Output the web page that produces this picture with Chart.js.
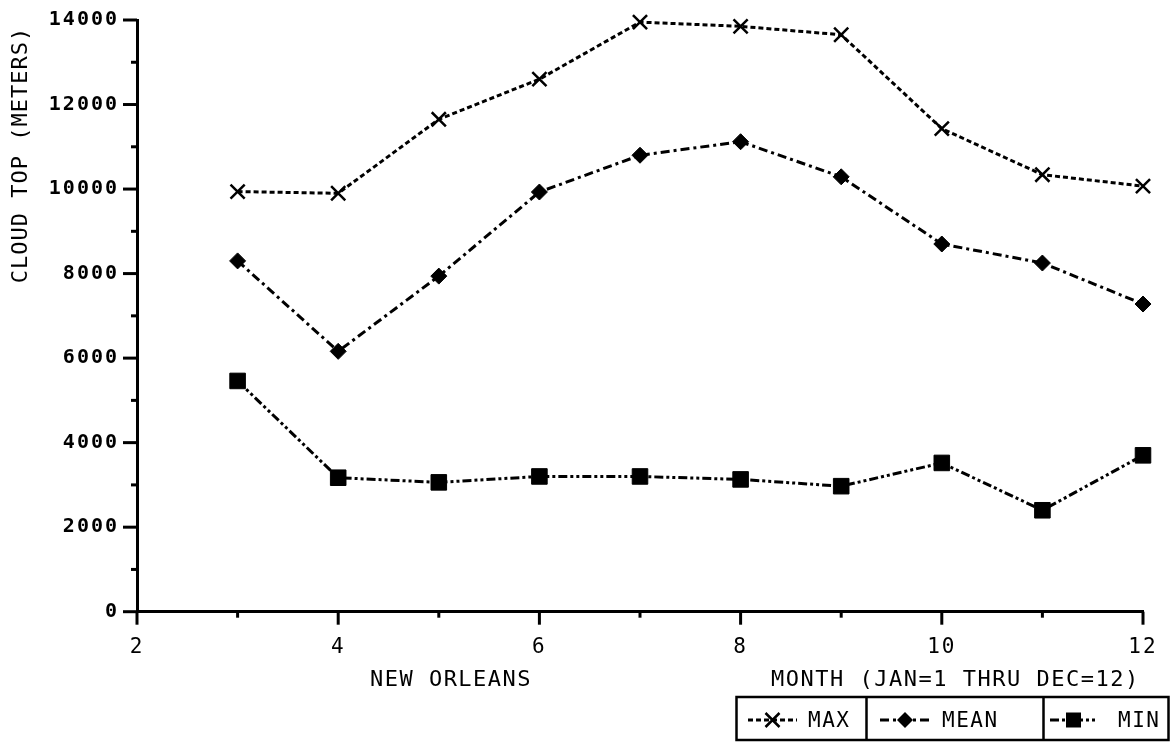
<!DOCTYPE html>
<html>
<head>
<meta charset="utf-8">
<script src="https://cdn.jsdelivr.net/npm/chart.js@4.4.0/dist/chart.umd.min.js"></script>
<style>
  html, body { margin: 0; padding: 0; background: #fff; }
  #wrap { width: 1170px; height: 743px; }
</style>
</head>
<body>
<div id="wrap"><canvas id="cloudChart" width="1170" height="743"></canvas></div>
<script>
const months = [3, 4, 5, 6, 7, 8, 9, 10, 11, 12];
const maxTop = [9940, 9900, 11650, 12600, 13950, 13850, 13650, 11430, 10340, 10070];
const meanTop = [8300, 6160, 7940, 9930, 10800, 11120, 10290, 8700, 8250, 7280];
const minTop = [5460, 3170, 3060, 3200, 3200, 3130, 2970, 3520, 2400, 3700];
const xTicks = [2, 4, 6, 8, 10, 12];
const yTicks = [0, 2000, 4000, 6000, 8000, 10000, 12000, 14000];
const seriesNames = ['MAX', 'MEAN', 'MIN'];
const yTitle = 'CLOUD TOP (METERS)';
const xTitleLeft = 'NEW ORLEANS';
const xTitleRight = 'MONTH (JAN=1 THRU DEC=12)';

const FONT = 'DejaVu Sans Mono';

function toPoints(values) {
    return months.map((m, i) => ({ x: m, y: values[i] }));
}

function drawMarker(ctx, style, x, y) {
    ctx.save();
    ctx.fillStyle = '#000';
    ctx.strokeStyle = '#000';
    ctx.setLineDash([]);
    ctx.beginPath();
    if (style === 'crossRot') {
        ctx.lineWidth = 2.5;
        ctx.moveTo(x - 7, y - 7); ctx.lineTo(x + 7, y + 7);
        ctx.moveTo(x + 7, y - 7); ctx.lineTo(x - 7, y + 7);
        ctx.stroke();
    } else if (style === 'rectRot') {
        ctx.moveTo(x - 8, y); ctx.lineTo(x, y - 8);
        ctx.lineTo(x + 8, y); ctx.lineTo(x, y + 8);
        ctx.closePath();
        ctx.fill();
    } else {
        ctx.rect(x - 7.5, y - 7.5, 15, 15);
        ctx.fill();
    }
    ctx.restore();
}

const decorPlugin = {
    id: 'decor',
    beforeDraw(chart) {
        const ctx = chart.ctx;
        ctx.save();
        ctx.fillStyle = '#fff';
        ctx.fillRect(0, 0, chart.width, chart.height);
        ctx.restore();
        // wider spacing for the plotter-style tick digits
        ctx.letterSpacing = '2px';
    },
    afterDraw(chart) {
        const ctx = chart.ctx;
        const xs = chart.scales.x;
        const ys = chart.scales.y;
        const area = chart.chartArea;

        ctx.save();
        ctx.strokeStyle = '#000';
        ctx.lineWidth = 3;
        ctx.setLineDash([]);
        // y ticks (major every 2000, minor in between)
        for (let v = ys.min; v <= ys.max; v += 1000) {
            const py = ys.getPixelForValue(v);
            const len = v % 2000 === 0 ? 14 : 6;
            ctx.beginPath();
            ctx.moveTo(area.left - len, py);
            ctx.lineTo(area.left, py);
            ctx.stroke();
        }
        // x ticks (major on even months, minor on odd)
        for (let v = xs.min; v <= xs.max; v += 1) {
            const px = xs.getPixelForValue(v);
            const len = v % 2 === 0 ? 13 : 6;
            ctx.beginPath();
            ctx.moveTo(px, area.bottom);
            ctx.lineTo(px, area.bottom + len);
            ctx.stroke();
        }

        // titles
        ctx.fillStyle = '#000';
        ctx.font = '22px ' + FONT;
        ctx.letterSpacing = '1px';
        ctx.textBaseline = 'middle';

        ctx.save();
        ctx.translate(21, 155);
        ctx.rotate(-Math.PI / 2);
        ctx.textAlign = 'center';
        ctx.fillText(yTitle, 0, 0);
        ctx.restore();

        ctx.letterSpacing = '1.5px';
        ctx.textAlign = 'center';
        ctx.fillText(xTitleLeft, 451, 680);
        ctx.textAlign = 'left';
        ctx.fillText(xTitleRight, 771, 680);

        // legend boxes
        ctx.lineWidth = 2.5;
        ctx.strokeRect(736.5, 697, 432, 43);
        ctx.beginPath();
        ctx.moveTo(866.5, 697); ctx.lineTo(866.5, 740);
        ctx.moveTo(1043.5, 697); ctx.lineTo(1043.5, 740);
        ctx.stroke();

        const legendItems = [
            { x1: 748, x2: 797, text: 808 },
            { x1: 880, x2: 930, text: 942 },
            { x1: 1050, x2: 1097, text: 1118 }
        ];
        const ly = 720;
        chart.data.datasets.forEach((ds, i) => {
            const it = legendItems[i];
            ctx.save();
            ctx.lineWidth = 3;
            ctx.setLineDash(ds.borderDash);
            ctx.beginPath();
            ctx.moveTo(it.x1, ly);
            ctx.lineTo(it.x2, ly);
            ctx.stroke();
            ctx.restore();
            drawMarker(ctx, ds.pointStyle, (it.x1 + it.x2) / 2, ly);
            ctx.textAlign = 'left';
            ctx.font = '21px ' + FONT;
            ctx.fillText(seriesNames[i], it.text, ly + 2);
        });
        ctx.restore();
    }
};

function lineDataset(label, values, dash, style, radius, bw) {
    return {
        label: label,
        data: toPoints(values),
        borderColor: '#000',
        backgroundColor: '#000',
        borderWidth: 3,
        borderDash: dash,
        pointStyle: style,
        pointRadius: radius,
        pointBorderWidth: bw,
        pointBackgroundColor: '#000',
        pointBorderColor: '#000',
        tension: 0,
        fill: false,
        clip: false
    };
}

new Chart(document.getElementById('cloudChart').getContext('2d'), {
    type: 'line',
    data: {
        datasets: [
            lineDataset(seriesNames[0], maxTop, [5, 3], 'crossRot', 10, 2.5),
            lineDataset(seriesNames[1], meanTop, [9, 4, 3, 4], 'rectRot', 8, 1),
            lineDataset(seriesNames[2], minTop, [9, 3, 3, 3, 3, 3], 'rect', 11, 1)
        ]
    },
    options: {
        responsive: false,
        animation: false,
        devicePixelRatio: 1,
        layout: { padding: { left: 0, top: 20, right: 27, bottom: 0 } },
        scales: {
            x: {
                type: 'linear',
                min: 2,
                max: 12,
                afterBuildTicks: (scale) => { scale.ticks = xTicks.map(v => ({ value: v })); },
                afterFit: (scale) => {
                    scale.height = 131.3;
                    scale.paddingLeft = 0;
                    scale.paddingRight = 0;
                },
                grid: { display: false, drawTicks: false },
                border: { display: true, color: '#000', width: 3 },
                ticks: {
                    color: '#000',
                    padding: 23,
                    font: { family: FONT, size: 21 },
                    callback: (v) => String(v)
                }
            },
            y: {
                type: 'linear',
                min: 0,
                max: 14000,
                afterBuildTicks: (scale) => { scale.ticks = yTicks.map(v => ({ value: v })); },
                afterFit: (scale) => {
                    scale.width = 137;
                    scale.paddingTop = 0;
                    scale.paddingBottom = 0;
                },
                grid: { display: false, drawTicks: false },
                border: { display: true, color: '#000', width: 3 },
                ticks: {
                    color: '#000',
                    padding: 18,
                    font: { family: FONT, size: 20, weight: 'bold' },
                    callback: (v) => String(v)
                }
            }
        },
        plugins: {
            legend: { display: false },
            tooltip: { enabled: false }
        }
    },
    plugins: [decorPlugin]
});
</script>
</body>
</html>
